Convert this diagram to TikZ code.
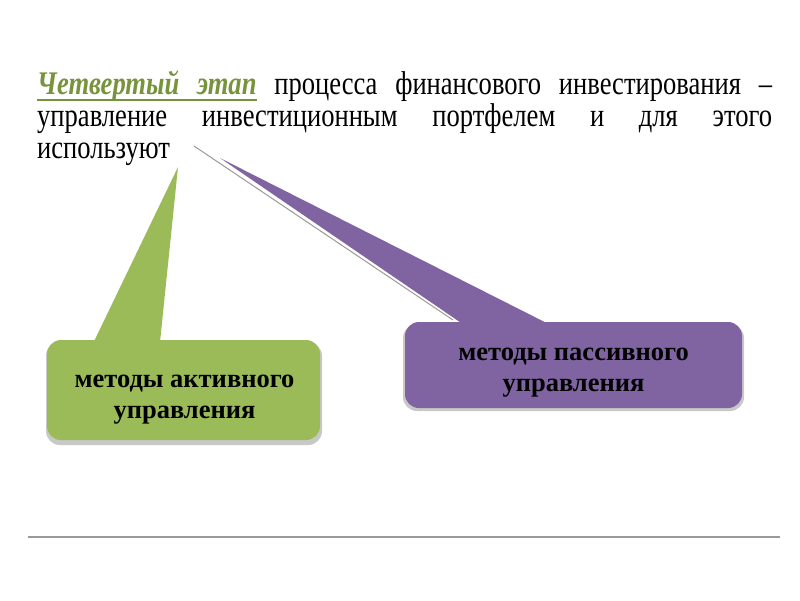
\documentclass[tikz,border=0pt]{standalone}
\usepackage{fontspec}
\setmainfont{Liberation Serif}
\newfontfamily\titlefont[FakeStretch=0.805]{Liberation Serif}
\newfontfamily\boxfont{Liberation Serif}
\usetikzlibrary{calc}
\definecolor{gr}{HTML}{9BBB59}
\definecolor{grtext}{HTML}{77933C}
\definecolor{pu}{HTML}{8064A2}
\definecolor{sh}{HTML}{C8C8C8}
\newcommand\gul[1]{\setbox0\hbox{#1}\rlap{\rule[-6pt]{\wd0}{1.8pt}}\box0}
\newcommand\gsp{\leaders\hrule height -4.2pt depth 6pt\hskip\fontdimen2\font plus\fontdimen3\font minus\fontdimen4\font\relax}
\begin{document}
\begin{tikzpicture}[x=1pt,y=-1pt,
  boxtext/.style={font=\boxfont\fontsize{26.5}{31}\selectfont\bfseries, align=center, text=black}]
\useasboundingbox (0,0) rectangle (800,600);
% title
\node[anchor=north west, inner sep=0pt, text width=735pt, align=justify,
      font=\titlefont\fontsize{33}{32}\selectfont] (title) at (37,71)
 {{\color{grtext}\bfseries\itshape\gul{Четвертый}\gsp\gul{этап}} процесса финансового инвестирования –\linebreak управление инвестиционным портфелем и для этого\linebreak используют};
% coordinates
\coordinate (gtip) at (178,167);
\coordinate (ptip) at (220,158);
% shadows
\fill[sh, rounded corners=14pt] (46,342) rectangle (322,445);
\fill[sh, rounded corners=14pt] (403,324) rectangle (744,411);
\draw[gray!80, line width=1pt] (194,146) -- (453,320);
% green callout
\node[fill=gr, rounded corners=14pt, minimum width=273pt, minimum height=100pt, inner sep=0pt] (gbox) at (183.5,390) {};
\fill[gr] (gtip) -- ($(gbox.north west -| 89,0)+(0,12)$) -- ($(gbox.north west -| 159,0)+(0,12)$) -- cycle;
\node[boxtext] (gtext) at ($(gbox.center)+(1,10)$) {методы активного\\управления};
% purple callout
\node[fill=pu, rounded corners=14pt, minimum width=337pt, minimum height=86pt, inner sep=0pt] (pbox) at (573.5,365) {};
\fill[pu] (ptip) -- ($(pbox.north west -| 477,0)+(0,12)$) -- ($(pbox.north west -| 568,0)+(0,12)$) -- cycle;
\node[boxtext] (ptext) at ($(pbox.center)+(0,8)$) {методы пассивного\\управления};
% bottom rule
\coordinate (la) at (28,537);
\coordinate (lb) at (780,537);
\draw[color=black!40, line width=2pt] (la) -- (lb);
\end{tikzpicture}
\end{document}
